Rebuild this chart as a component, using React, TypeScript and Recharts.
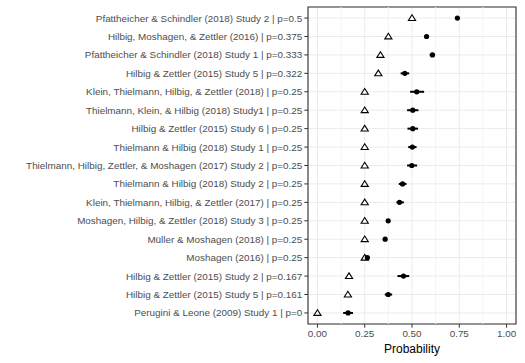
import React from 'react';
import {
  ScatterChart,
  Scatter,
  XAxis,
  YAxis,
  CartesianGrid,
  ErrorBar,
  ReferenceLine,
  ReferenceArea,
} from 'recharts';

// Studies, top to bottom
const studies: string[] = [
  'Pfattheicher & Schindler (2018) Study 2 | p=0.5',
  'Hilbig, Moshagen, & Zettler (2016) | p=0.375',
  'Pfattheicher & Schindler (2018) Study 1 | p=0.333',
  'Hilbig & Zettler (2015) Study 5 | p=0.322',
  'Klein, Thielmann, Hilbig, & Zettler (2018) | p=0.25',
  'Thielmann, Klein, & Hilbig (2018) Study1 | p=0.25',
  'Hilbig & Zettler (2015) Study 6 | p=0.25',
  'Thielmann & Hilbig (2018) Study 1 | p=0.25',
  'Thielmann, Hilbig, Zettler, & Moshagen (2017) Study 2 | p=0.25',
  'Thielmann & Hilbig (2018) Study 2 | p=0.25',
  'Klein, Thielmann, Hilbig, & Zettler (2017) | p=0.25',
  'Moshagen, Hilbig, & Zettler (2018) Study 3 | p=0.25',
  'Müller & Moshagen (2018) | p=0.25',
  'Moshagen (2016) | p=0.25',
  'Hilbig & Zettler (2015) Study 2 | p=0.167',
  'Hilbig & Zettler (2015) Study 5 | p=0.161',
  'Perugini & Leone (2009) Study 1 | p=0',
];

// Base-rate probability (open triangles)
const baseRate: number[] = [
  0.5, 0.375, 0.333, 0.322, 0.25, 0.25, 0.25, 0.25, 0.25, 0.25, 0.25, 0.25, 0.25, 0.25, 0.167,
  0.161, 0,
];

// Observed probability (filled points) with interval bounds
const observed: number[] = [
  0.74, 0.577, 0.608, 0.462, 0.525, 0.504, 0.504, 0.502, 0.499, 0.45, 0.434, 0.374, 0.358,
  0.264, 0.455, 0.374, 0.162,
];
const lower: number[] = [
  0.735, 0.572, 0.594, 0.44, 0.49, 0.474, 0.476, 0.48, 0.474, 0.43, 0.418, 0.368, 0.353,
  0.259, 0.423, 0.356, 0.136,
];
const upper: number[] = [
  0.745, 0.582, 0.622, 0.485, 0.564, 0.534, 0.532, 0.524, 0.527, 0.471, 0.457, 0.38, 0.363,
  0.269, 0.485, 0.395, 0.188,
];

const xTicks = [0, 0.25, 0.5, 0.75, 1];
const xMinor = [0.125, 0.375, 0.625, 0.875];
const rowTicks = studies.map((_, i) => i + 1);

const triangleData = studies.map((name, i) => ({ name, row: i + 1, p: baseRate[i] }));
const pointData = studies.map((name, i) => ({
  name,
  row: i + 1,
  p: observed[i],
  err: [observed[i] - lower[i], upper[i] - observed[i]],
}));

const font = '"Liberation Sans", Arial, Helvetica, sans-serif';
const tickFont = 9.9;

const Triangle = (props: any) => {
  const { cx, cy } = props;
  const s = 3.6;
  const h = s * 0.9;
  return (
    <path
      d={`M${cx},${cy - h} L${cx + s},${cy + h * 0.75} L${cx - s},${cy + h * 0.75} Z`}
      fill="#fff"
      stroke="#000"
      strokeWidth={1.1}
    />
  );
};

const Dot = (props: any) => <circle cx={props.cx} cy={props.cy} r={2.6} fill="#000" />;

// single-line study label, right aligned against the tick mark
const StudyTick = (props: any) => {
  const { x, y, payload } = props;
  return (
    <text
      x={x}
      y={y}
      dy={3.5}
      textAnchor="end"
      fontSize={tickFont}
      fill="#4d4d4d"
      fontFamily={font}
    >
      {studies[payload.value - 1]}
    </text>
  );
};

export default function App() {
  return (
    <div style={{ position: 'absolute', left: 0, top: 0, background: '#fff', fontFamily: font }}>
      <ScatterChart width={525} height={363} margin={{ top: 7, right: 9, bottom: 0, left: 0 }}>
        <CartesianGrid stroke="#ebebeb" strokeWidth={1} />
        {xMinor.map((v) => (
          <ReferenceLine key={v} x={v} stroke="#f4f4f4" strokeWidth={1} />
        ))}
        <XAxis
          type="number"
          dataKey="p"
          domain={[-0.05, 1.05]}
          allowDataOverflow
          ticks={xTicks}
          tickFormatter={(v: number) => v.toFixed(2)}
          axisLine={false}
          tickLine={{ stroke: '#333' }}
          tickSize={3.7}
          tick={{ fontSize: tickFont, fill: '#4d4d4d', fontFamily: font }}
          height={39}
          label={{
            value: 'Probability',
            position: 'insideBottom',
            offset: 10,
            fontSize: 12,
            fill: '#000',
            fontFamily: font,
          }}
        />
        <YAxis
          type="number"
          dataKey="row"
          domain={[0.4, 17.6]}
          allowDataOverflow
          reversed
          ticks={rowTicks}
          interval={0}
          axisLine={false}
          tickLine={{ stroke: '#333' }}
          tickSize={3.7}
          tick={<StudyTick />}
          width={308}
        />
        <Scatter data={triangleData} shape={Triangle} isAnimationActive={false} />
        <Scatter data={pointData} shape={Dot} isAnimationActive={false}>
          <ErrorBar dataKey="err" direction="x" width={0} stroke="#000" strokeWidth={2} />
        </Scatter>
        <ReferenceArea
          x1={-0.05}
          x2={1.05}
          y1={0.4}
          y2={17.6}
          fill="none"
          stroke="#333"
          strokeWidth={1.1}
          ifOverflow="visible"
        />
      </ScatterChart>
    </div>
  );
}
